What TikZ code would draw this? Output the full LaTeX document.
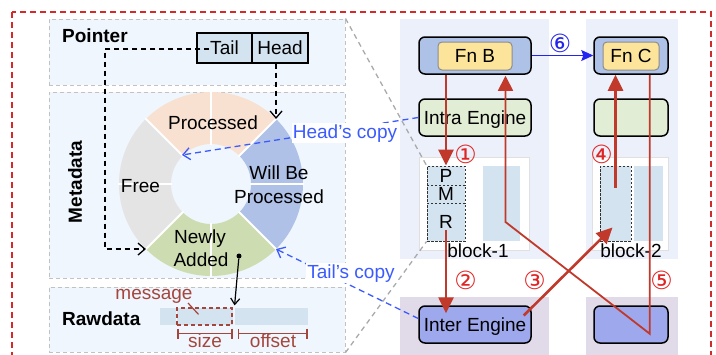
\documentclass[tikz,border=0pt]{standalone}
\usepackage{fontspec}
\setmainfont{Liberation Sans}
\newfontfamily\circfont{DejaVu Sans}
\usetikzlibrary{arrows.meta,calc}

\definecolor{panelbg}{HTML}{EFF6FD}
\definecolor{panelline}{HTML}{C2C2C2}
\definecolor{colbg}{HTML}{ECF0FA}
\definecolor{engbg}{HTML}{E1DAE8}
\definecolor{fnouter}{HTML}{AEC2E8}
\definecolor{fninner}{HTML}{FCE49B}
\definecolor{intrafill}{HTML}{E2EDD5}
\definecolor{interfill}{HTML}{9EA8EC}
\definecolor{cellblue}{HTML}{D4E3F0}
\definecolor{flowred}{HTML}{C0392B}
\definecolor{numred}{HTML}{E02424}
\definecolor{copyblue}{HTML}{3B5BFF}
\definecolor{callblue}{HTML}{2424F0}
\definecolor{msgbrown}{HTML}{A5463C}
\definecolor{framered}{HTML}{D42A2A}
\definecolor{segproc}{HTML}{F9E1D1}
\definecolor{segwill}{HTML}{AFC1E7}
\definecolor{segnew}{HTML}{CDDDB1}
\definecolor{segfree}{HTML}{E4E4E4}
\definecolor{zoomgray}{HTML}{AAAAAA}

\begin{document}
\begin{tikzpicture}[x=1pt,y=-1pt,
  font=\fontsize{19}{22}\selectfont,
  panel/.style={draw=panelline, line width=1pt, dash pattern=on 4pt off 3pt,
    fill=panelbg, minimum width=296, inner sep=0},
  colpanel/.style={fill=colbg, inner sep=0},
  engpanel/.style={fill=engbg, inner sep=0},
  ptrcell/.style={draw=black, line width=1.2pt, fill=cellblue, minimum height=30, inner sep=0},
  fnbox/.style={draw=black, line width=1.5pt, rounded corners=6pt, fill=fnouter,
    minimum height=37, inner sep=0},
  fnname/.style={draw=black!45, line width=1pt, rounded corners=4pt, fill=fninner,
    minimum height=28, inner sep=0},
  engine/.style={draw=black, line width=1.5pt, rounded corners=6pt,
    minimum height=37, inner sep=0, text depth=0pt},
  blockpanel/.style={draw=black!12, line width=0.8pt, fill=white, minimum height=93, inner sep=0},
  pcell/.style={draw=black!80, line width=0.8pt, dash pattern=on 2.5pt off 1.5pt,
    fill=cellblue, minimum width=38, inner sep=0},
  bar/.style={fill=cellblue, minimum height=75, inner sep=0},
  ptrline/.style={black, line width=1.3pt, dash pattern=on 5pt off 4pt,
    -{Straight Barb[length=7pt,width=12pt,line width=1.3pt]}},
  copyline/.style={copyblue, line width=1.3pt, dash pattern=on 6pt off 4pt,
    -{Straight Barb[length=7pt,width=12pt,line width=1.3pt]}},
  copylabel/.style={copyblue, fill=white, inner sep=1pt, anchor=base},
  zoomline/.style={zoomgray, line width=1.3pt, dash pattern=on 5pt off 4pt},
  flow/.style={flowred, line width=2.6pt, -{Triangle[length=16pt,width=15pt]}},
  flowthin/.style={flowred, line width=1.8pt, -{Triangle[length=15pt,width=15pt]}},
  stepnum/.style={numred, font=\circfont\fontsize{25}{27}\selectfont, inner sep=0},
  bracket/.style={msgbrown, line width=1.3pt, {Bar[width=10pt]}-{Bar[width=10pt]}},
  lbl/.style={anchor=base, inner sep=0},
  seg/.style={white, line width=2pt}
]
\useasboundingbox (0,0) rectangle (716,354);

% outer dashed frame, running past the lower edge
\begin{scope}
  \clip (0,0) rectangle (716,354);
  \draw[framered, line width=1.5pt, dash pattern=on 6pt off 4pt] (12,12) rectangle (711,380);
\end{scope}

% ---------------- left: ring buffer layout ----------------
\node[panel, minimum height=66] (ptrbox) at (197,52) {};
\node[panel, minimum height=186] (metabox) at (197,185) {};
\node[panel, minimum height=65] (rawbox) at (197,319.5) {};

\node[lbl, anchor=base west, font=\fontsize{19}{22}\selectfont\bfseries] (ptrtitle) at (62,42) {Pointer};
\node[lbl, anchor=base west, font=\fontsize{19}{22}\selectfont\bfseries] (rawtitle) at (62,325) {Rawdata};
\node[rotate=90, inner sep=0, font=\fontsize{19}{22}\selectfont\bfseries] (metatitle) at (75,182) {Metadata};

\node[ptrcell, minimum width=55] (tailcell) at (224.5,48) {Tail};
\node[ptrcell, minimum width=56] (headcell) at (280,48) {Head};

% ring of slots
\coordinate (dc) at (211,184);
\fill[segproc] ($(dc)+(-135:92)$) arc[start angle=-135, end angle=-45, radius=92]
  -- ($(dc)+(-45:40)$) arc[start angle=-45, end angle=-135, radius=40] -- cycle;
\fill[segwill] ($(dc)+(-45:92)$) arc[start angle=-45, end angle=45, radius=92]
  -- ($(dc)+(45:40)$) arc[start angle=45, end angle=-45, radius=40] -- cycle;
\fill[segnew] ($(dc)+(45:92)$) arc[start angle=45, end angle=135, radius=92]
  -- ($(dc)+(135:40)$) arc[start angle=135, end angle=45, radius=40] -- cycle;
\fill[segfree] ($(dc)+(135:92)$) arc[start angle=135, end angle=225, radius=92]
  -- ($(dc)+(225:40)$) arc[start angle=225, end angle=135, radius=40] -- cycle;
\foreach \a in {0,45,...,315}
  \draw[seg] ($(dc)+(\a:39)$) -- ($(dc)+(\a:93)$);

\coordinate (headtip) at ($(dc)+(-45:92)$);
\coordinate (tailtip) at ($(dc)+(135:92)$);
\coordinate (tailcopytip) at ($(dc)+(45:92)$);
\coordinate (headcopytip) at ($(dc)+(-135:41)$);

\node[lbl] (tproc) at (213,129) {Processed};
\node[lbl] (tfree) at (140.5,192) {Free};
\node[lbl] (twill) at (279,179) {Will Be};
\node[lbl] (twill2) at (279,203) {Processed};
\node[lbl] (tnew) at (200,243) {Newly};
\node[lbl] (tnew2) at (201,266) {Added};

% raw message area
\fill[cellblue] (160,308) rectangle (175.5,325);
\fill[cellblue] (177,308) rectangle (233,325);
\fill[cellblue] (235,308) rectangle (308,325);
\node[draw=msgbrown, line width=1.2pt, dash pattern=on 4pt off 3pt,
  minimum width=55, minimum height=17, inner sep=0] (msgbox) at (204.5,316.5) {};
\node[lbl, msgbrown] (msglabel) at (154,299) {message};
\draw[msgbrown, line width=1.2pt] ($(msglabel.base)+(34,4)$) -- ($(msgbox.north)+(-6,7)$);
\draw[bracket] ($(msgbox.south west)+(1,8)$) -- ($(msgbox.south east)+(0,8)$);
\draw[bracket] ($(msgbox.south east)+(5,8)$) -- ($(msgbox.south east)+(75,8)$);
\node[lbl, msgbrown] (sizelbl) at (205,347) {size};
\node[lbl, msgbrown] (offlbl) at (273,347) {offset};

\node[circle, fill=black, inner sep=0, minimum size=5] (dot) at (239,256) {};
\draw[black, line width=1.2pt, -{Straight Barb[length=6pt,width=9pt,line width=1.2pt]}]
  (dot) -- ($(msgbox.north east)+(2,-2)$);

% pointer arrows
\coordinate (ptrturn) at (105,49);
\draw[ptrline] ($(tailcell.west)+(13,1)$) -- (ptrturn) |- (tailtip);
\draw[ptrline] (headtip |- headcell.south) -- (headtip);

% ---------------- right: functions and engines ----------------
\node[colpanel, minimum width=149, minimum height=240] (col1) at (474.5,139) {};
\node[colpanel, minimum width=92, minimum height=240] (col2) at (632,139) {};
\node[engpanel, minimum width=149, minimum height=63] (eng1) at (474.5,328.5) {};
\node[engpanel, minimum width=92, minimum height=63] (eng2) at (632,328.5) {};

\node[fnbox, minimum width=112] (fnBout) at (475,55.5) {};
\node[fnname, minimum width=74] (fnB) at (475,56) {Fn B};
\node[fnbox, minimum width=74] (fnCout) at (631,55.5) {};
\node[fnname, minimum width=56] (fnC) at (631,56) {Fn C};

\node[engine, fill=intrafill, minimum width=112] (intra) at (475,117.5) {Intra Engine};
\node[engine, fill=intrafill, minimum width=74] (intra2) at (631,117.5) {};

\node[blockpanel, minimum width=110] (blk1) at (474,203.5) {};
\node[blockpanel, minimum width=76] (blk2) at (630,203.5) {};
\node[pcell, minimum height=19] (Pcell) at (446,175.5) {P};
\node[pcell, minimum height=18] (Mcell) at (446,194) {M};
\node[pcell, minimum height=38] (Rcell) at (446,222) {R};
\node[bar, minimum width=37] (bar1) at (501.5,203.5) {};
\node[pcell, minimum width=31, minimum height=75] (b2cell) at (615.5,203.5) {};
\node[bar, minimum width=29] (bar2) at (648.5,203.5) {};
\node[lbl] (blk1lbl) at (478,257) {block-1};
\node[lbl] (blk2lbl) at (631,257) {block-2};

\node[engine, fill=interfill, minimum width=112] (inter) at (475,324.5) {Inter Engine};
\node[engine, fill=interfill, minimum width=74] (inter2) at (631,324.5) {};

% zoom-in guides from the layout to block-1
\draw[zoomline] (ptrbox.north east) -- (Pcell.north west);
\draw[zoomline] (rawbox.south east) -- (Rcell.south west);

% copies of head and tail held by the engines
\draw[copyline] (intra.west) -- (headcopytip);
\draw[copyline] ($(inter.west)+(0,-6)$) -- (tailcopytip);
\node[copylabel] (headcopy) at (345,138) {Head's copy};
\node[copylabel] (tailcopy) at (351,278) {Tail's copy};

% data flow
\draw[callblue, line width=1.2pt, -{Stealth[length=12pt,width=11pt,inset=2pt]}] (fnBout.east) -- (fnCout.west);
\draw[flow] (Pcell.north |- fnBout.south) -- (Pcell.north);
\draw[flow] ($(Rcell.center)+(0,8)$) -- ($(Rcell.center |- inter.north)+(0,8)$);
\draw[flow] ($(inter.east)+(-8,-9)$) -- ($(b2cell.center)+(-3,24)$);
\draw[flow] ($(b2cell.center)+(0,-16)$) -- (b2cell.center |- fnCout.south);
\draw[flowthin, line join=miter] ($(fnCout.south east)+(-19,0)$) -- ($(inter2.south east)+(-19,-10)$)
  -- ($(bar1.center)+(4,18.5)$) -- ($(bar1.center |- fnBout.south)+(4,1)$);

\node[stepnum] (n1) at (465.5,154.5) {①};
\node[stepnum] (n2) at (465.5,280) {②};
\node[stepnum] (n3) at (534.5,280) {③};
\node[stepnum] (n4) at (601.5,154.5) {④};
\node[stepnum] (n5) at (661.5,280) {⑤};
\node[stepnum, text=callblue] (n6) at (560,43) {⑥};
\end{tikzpicture}
\end{document}
